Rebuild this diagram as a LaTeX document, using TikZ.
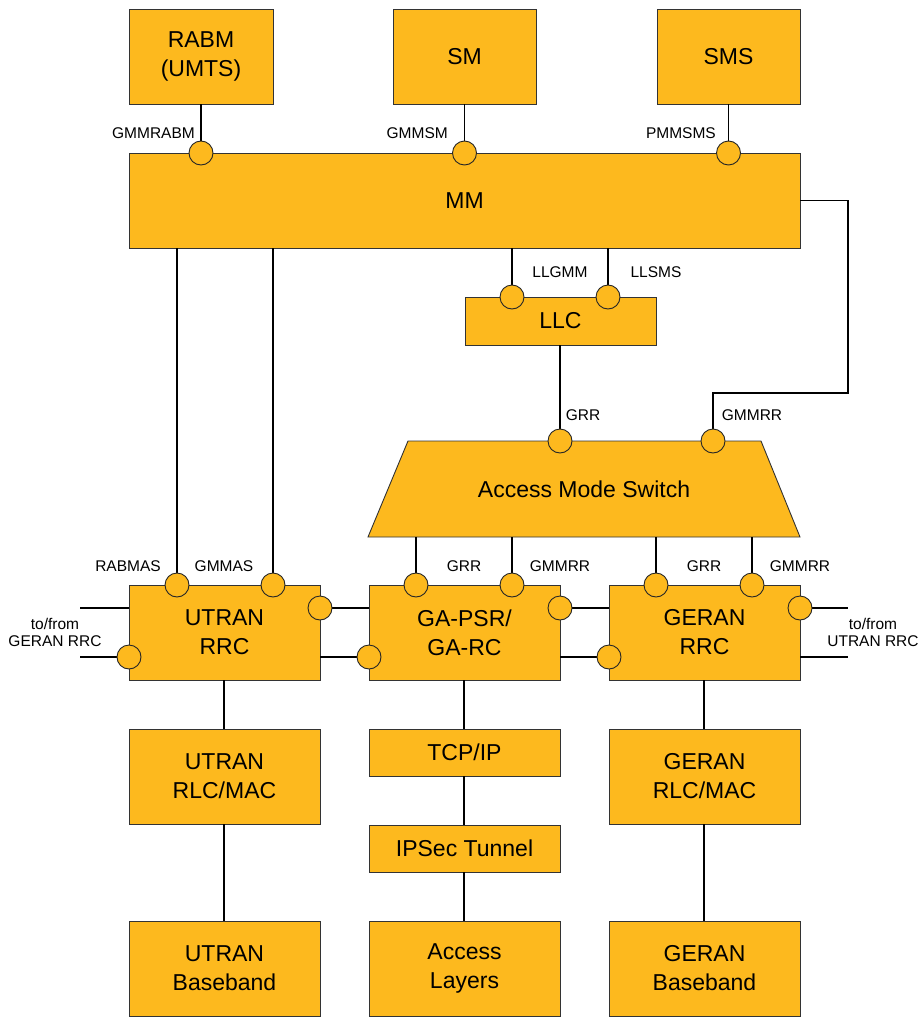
\documentclass[tikz,border=0pt]{standalone}
\usepackage{fontspec}
\setmainfont{Liberation Sans}
\definecolor{orng}{RGB}{253,185,30}
\begin{document}
\begin{tikzpicture}[x=1pt,y=-1pt,
  box/.style={draw=black!80, fill=orng, line width=0.9pt, font=\fontsize{23}{29}\selectfont, align=center, inner sep=0pt, outer sep=0pt, minimum width=191pt, minimum height=95pt},
  port/.style={circle, draw=black!85, fill=orng, minimum size=24pt, inner sep=0pt, line width=0.9pt},
  lbl/.style={font=\fontsize{15.5}{17}\selectfont, inner sep=0pt, align=center},
  wire/.style={line width=1.7pt, black}]
\useasboundingbox (0,0) rectangle (921,1017);
% top boxes
\node[box, minimum width=144pt] (rabm) at (201,56.5) {RABM\\(UMTS)};
\node[box, minimum width=143pt] (sm) at (464.5,56.5) {SM};
\node[box, minimum width=143pt] (sms) at (728.5,56.5) {SMS};
\node[box, minimum width=671pt] (mm) at (464.5,200.5) {MM};
\node[box, minimum height=48pt] (llc) at (560.5,321) {LLC};
% access mode switch
\draw[draw=black!80, fill=orng, line width=0.9pt] (408,441) -- (761,441) -- (800,537) -- (368,537) -- cycle;
\node[font=\fontsize{23}{29}\selectfont, inner sep=0pt] (ams) at (584,489) {Access Mode Switch};
\coordinate (amsB) at (584,537);
% RRC row
\node[box] (utranrrc) at (224.5,632.5) {UTRAN\\RRC};
\node[box] (gapsr) at (464.5,632.5) {GA-PSR/\\GA-RC};
\node[box] (geranrrc) at (704.5,632.5) {GERAN\\RRC};
% lower
\node[box] (utranrlc) at (224.5,776.5) {UTRAN\\RLC/MAC};
\node[box, minimum height=47pt] (tcpip) at (464.5,752.5) {TCP/IP};
\node[box, minimum height=47pt] (ipsec) at (464.5,848.5) {IPSec Tunnel};
\node[box] (geranrlc) at (704.5,776.5) {GERAN\\RLC/MAC};
\node[box] (utranbb) at (224.5,968.5) {UTRAN\\Baseband};
\node[box] (access) at (464.5,968.5) {Access\\Layers};
\node[box] (geranbb) at (704.5,968.5) {GERAN\\Baseband};
% coordinates
\coordinate (bend) at (848,393);
\coordinate (extL1) at (80,608);
\coordinate (extL2) at (80,657);
\coordinate (extR1) at (848,608);
\coordinate (extR2) at (848,657);
% wires
\draw[wire] (rabm.south) -- (201,153) coordinate (pRabmC);
\draw[wire] (sm.south) -- (464.5,153) coordinate (pSmC);
\draw[wire] (sms.south) -- (728.5,153) coordinate (pSmsC);
\draw[wire] (177,248) coordinate (mU1) -- (177,585) coordinate (pU1C);
\draw[wire] (273,248) coordinate (mU2) -- (273,585) coordinate (pU2C);
\draw[wire] (512,248) coordinate (mL1) -- (512,297) coordinate (pL1C);
\draw[wire] (608,248) coordinate (mL2) -- (608,297) coordinate (pL2C);
\draw[wire] ([xshift=-0.5pt]llc.south) -- (560,441) coordinate (pA1C);
\draw[wire] (mm.east) -| (bend) -| (713,441) coordinate (pA2C);
\foreach \n/\x in {G1/416,G2/512,G3/656,G4/752}
  \draw[wire] (\x,537) -- (\x,585) coordinate (p\n C);
\draw[wire] (extL1) -- (utranrrc.west |- extL1);
\draw[wire] (extL2) -- (129,657) coordinate (pU3C);
\draw[wire] (320,608) coordinate (pU4C) -- (gapsr.west |- pU4C);
\draw[wire] (utranrrc.east |- extL2) -- (369,657) coordinate (pP3C);
\draw[wire] (560,608) coordinate (pP4C) -- (geranrrc.west |- pP4C);
\draw[wire] (gapsr.east |- extL2) -- (609,657) coordinate (pR3C);
\draw[wire] (800,608) coordinate (pR4C) -- (extR1);
\draw[wire] (geranrrc.east |- extR2) -- (extR2);
\draw[wire] ([xshift=-0.5pt]utranrrc.south) -- ([xshift=-0.5pt]utranrlc.north);
\draw[wire] ([xshift=-0.5pt]utranrlc.south) -- ([xshift=-0.5pt]utranbb.north);
\draw[wire] ([xshift=-0.5pt]gapsr.south) -- ([xshift=-0.5pt]tcpip.north);
\draw[wire] ([xshift=-0.5pt]tcpip.south) -- ([xshift=-0.5pt]ipsec.north);
\draw[wire] ([xshift=-0.5pt]ipsec.south) -- ([xshift=-0.5pt]access.north);
\draw[wire] ([xshift=-0.5pt]geranrrc.south) -- ([xshift=-0.5pt]geranrlc.north);
\draw[wire] ([xshift=-0.5pt]geranrlc.south) -- ([xshift=-0.5pt]geranbb.north);
% ports
\foreach \p in {pRabmC,pSmC,pSmsC,pU1C,pU2C,pL1C,pL2C,pA1C,pA2C,pG1C,pG2C,pG3C,pG4C,pU3C,pU4C,pP3C,pP4C,pR3C,pR4C}
  \node[port] at (\p) {};
% labels
\node[lbl, anchor=east] (lGMMRABM) at (195,133) {GMMRABM};
\node[lbl, anchor=east] (lGMMSM) at (448,133) {GMMSM};
\node[lbl, anchor=east] (lPMMSMS) at (716,133) {PMMSMS};
\node[lbl] (lLLGMM) at (560,272) {LLGMM};
\node[lbl] (lLLSMS) at (656,272) {LLSMS};
\node[lbl] (lGRR0) at (583,415) {GRR};
\node[lbl] (lGMMRR0) at (752,415) {GMMRR};
\node[lbl] (lRABMAS) at (128,566) {RABMAS};
\node[lbl] (lGMMAS) at (224,566) {GMMAS};
\node[lbl] (lGRR1) at (464,566) {GRR};
\node[lbl] (lGMMRR1) at (560,566) {GMMRR};
\node[lbl] (lGRR2) at (704,566) {GRR};
\node[lbl] (lGMMRR2) at (800,566) {GMMRR};
\node[lbl] (lToL) at (55,632) {to/from\\GERAN RRC};
\node[lbl] (lToR) at (873,632) {to/from\\UTRAN RRC};
\end{tikzpicture}
\end{document}
